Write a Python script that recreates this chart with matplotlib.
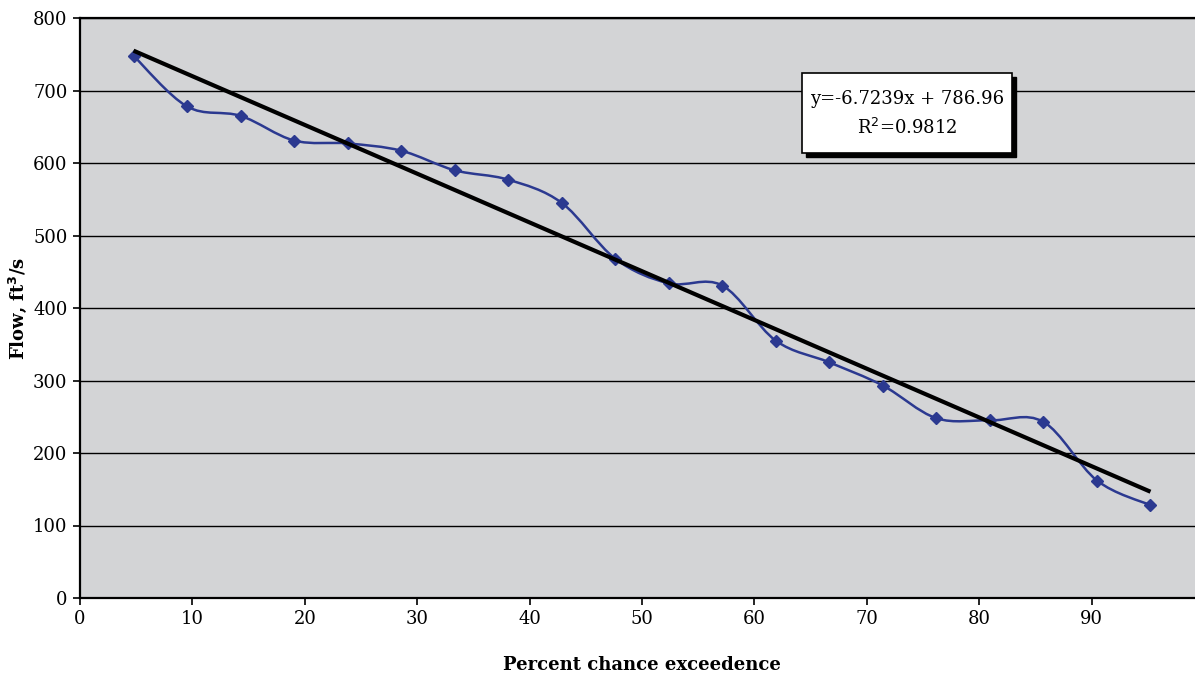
import numpy as np
import matplotlib
matplotlib.use("Agg")
import matplotlib.pyplot as plt
from matplotlib.path import Path
from matplotlib.patches import PathPatch, Rectangle

# data
pct_exceed = [4.76, 9.52, 14.29, 19.05, 23.81, 28.57, 33.33, 38.10, 42.86, 47.62,
              52.38, 57.14, 61.90, 66.67, 71.43, 76.19, 80.95, 85.71, 90.48, 95.24]
flow = [748, 678, 665, 631, 627, 617, 590, 577, 545, 468,
        434, 431, 355, 325, 293, 248, 245, 243, 162, 128]
trend_slope = -6.7239
trend_icpt = 786.96
trend_r2 = 0.9812
y_ticks = [0, 100, 200, 300, 400, 500, 600, 700, 800]
x_ticks = [0, 10, 20, 30, 40, 50, 60, 70, 80, 90]

SERIES_C = "#2B3990"
BG_C = "#D3D4D6"

plt.rcParams["font.family"] = ["DejaVu Serif"]


def smooth_path(xs, ys, t=1 / 6):
    # Catmull-Rom style bezier, like a spreadsheet "smoothed line"
    pts = np.column_stack([xs, ys]).astype(float)
    verts = [pts[0]]
    codes = [Path.MOVETO]
    n = len(pts)
    for i in range(n - 1):
        p0 = pts[max(i - 1, 0)]
        p1 = pts[i]
        p2 = pts[i + 1]
        p3 = pts[min(i + 2, n - 1)]
        c1 = p1 + (p2 - p0) * t
        c2 = p2 - (p3 - p1) * t
        verts += [c1, c2, p2]
        codes += [Path.CURVE4] * 3
    return Path(verts, codes)


W, H = 1195, 677
fig = plt.figure(figsize=(W / 100, H / 100), dpi=100)
ax = fig.add_axes([80 / W, 1 - 598 / H, 1 - 80 / W, 580 / H])
ax.set_facecolor(BG_C)

ax.set_xlim(0, 99.2)
ax.set_ylim(0, 800)
ax.set_xticks(x_ticks)
ax.set_yticks(y_ticks)
ax.tick_params(labelsize=13, length=5, width=1.2, direction="out", color="black", pad=4)
ax.yaxis.grid(True, color="black", linewidth=1.0)
ax.set_axisbelow(True)

for s in ("left", "bottom", "top"):
    ax.spines[s].set_linewidth(1.6)
    ax.spines[s].set_color("black")
ax.spines["right"].set_visible(False)

# smoothed data line + markers
ax.add_patch(PathPatch(smooth_path(pct_exceed, flow), facecolor="none",
                       edgecolor=SERIES_C, linewidth=1.8, zorder=3))
ax.plot(pct_exceed, flow, linestyle="none", marker="D", markersize=6.5,
        color=SERIES_C, zorder=4)

# linear trendline
tx = np.array([pct_exceed[0], pct_exceed[-1]])
ax.plot(tx, trend_slope * tx + trend_icpt, color="black", linewidth=3.0, zorder=5,
        solid_capstyle="butt")

# axis titles
fig.text(642 / W, 1 - 665 / H, "Percent chance exceedence", ha="center", va="center",
         fontsize=13, fontweight="bold")
fig.text(18 / W, 1 - 308 / H, "Flow, ft$^\\mathbf{3}$/s", ha="center", va="center",
         rotation=90, fontsize=13, fontweight="bold")

# equation box with drop shadow (figure pixel coords)
bx0, by0, bx1, by1 = 802, 73, 1012, 153
sh = 4
fig.patches.append(Rectangle(((bx0 + sh) / W, 1 - (by1 + sh) / H), (bx1 - bx0) / W,
                             (by1 - by0) / H, transform=fig.transFigure,
                             facecolor="black", edgecolor="black", zorder=6))
fig.patches.append(Rectangle((bx0 / W, 1 - by1 / H), (bx1 - bx0) / W, (by1 - by0) / H,
                             transform=fig.transFigure, facecolor="white",
                             edgecolor="black", linewidth=1.2, zorder=7))
cx = (bx0 + bx1) / 2 / W
fig.text(cx, 1 - 99 / H, f"y={trend_slope}x + {trend_icpt}", ha="center", va="center",
         fontsize=13, zorder=8)
fig.text(cx, 1 - 128 / H, f"R$^2$={trend_r2}", ha="center", va="center",
         fontsize=13, zorder=8)

fig.savefig("out.png", dpi=100)
